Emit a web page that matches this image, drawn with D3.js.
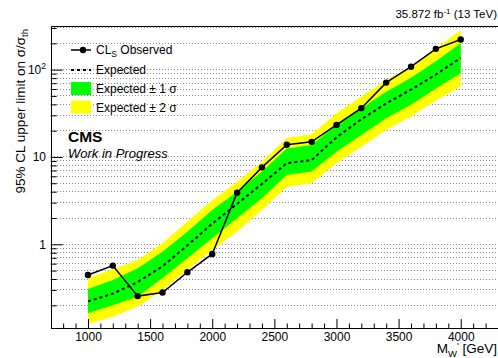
<!DOCTYPE html>
<html>
<head>
<meta charset="utf-8">
<script src="https://cdn.jsdelivr.net/npm/d3@7"></script>
<style>
  html, body { margin: 0; padding: 0; background: #fff; overflow: hidden; }
  svg { display: block; font-family: "Liberation Sans", Arial, Helvetica, sans-serif; }
</style>
</head>
<body>
<svg id="chart" width="498" height="358"></svg>
<script>
// W' mass points (GeV)
const masses = [1000, 1200, 1400, 1600, 1800, 2000, 2200, 2400, 2600, 2800, 3000, 3200, 3400, 3600, 3800, 4000];
// 95% CL upper limits on sigma/sigma_th
const observed = [0.445, 0.57, 0.255, 0.28, 0.478, 0.775, 3.9, 7.6, 13.8, 14.9, 23.3, 36.2, 71, 108, 173, 221];
const expected = [0.222, 0.272, 0.37, 0.56, 0.97, 1.72, 2.9, 4.9, 8.5, 9.2, 16.8, 27, 41, 59, 88, 136];
const plus1Sigma = [0.308, 0.39, 0.53, 0.82, 1.39, 2.47, 4.0, 6.8, 12.5, 13.7, 23.3, 36, 56, 81, 125, 200];
const minus1Sigma = [0.162, 0.2, 0.25, 0.41, 0.69, 1.17, 1.99, 3.36, 6.2, 6.8, 11.5, 17.9, 27.7, 39.5, 61, 91];
const plus2Sigma = [0.41, 0.517, 0.66, 1.03, 1.82, 3.2, 5.2, 8.8, 16.5, 18.2, 31.7, 49, 76, 108, 175, 285];
const minus2Sigma = [0.122, 0.148, 0.193, 0.3, 0.51, 0.86, 1.39, 2.47, 4.57, 5.0, 8.5, 13.1, 20.4, 29, 44, 64];

// axis ticks
const xMajorTicks = [1000, 1500, 2000, 2500, 3000, 3500, 4000];
const yMajorTicks = [1, 10, 100];
const yTickLabels = ["1", "10", "10^2"];

const svg = d3.select("#chart");
const plotLeft = 50.7, plotRight = 498, plotTop = 26, plotBottom = 328;

const x = d3.scaleLinear().domain([700, 4300]).range([plotLeft, plotRight]);
const y = d3.scaleLog().domain([0.11, 316]).range([plotBottom, plotTop]);

// minor decade values used for the horizontal grid and minor ticks
const yMinor = [];
[0.1, 1, 10, 100].forEach(d => { for (let k = 1; k <= 9; k++) { const v = +(d * k).toPrecision(3); if (v >= 0.11 && v <= 316) yMinor.push(v); } });

// horizontal grid
svg.append("g").selectAll("line").data(yMinor).join("line")
  .attr("x1", plotLeft).attr("x2", plotRight)
  .attr("y1", d => y(d)).attr("y2", d => y(d))
  .attr("stroke", "#8a8a8a").attr("stroke-width", 1)
  .attr("stroke-dasharray", "1.5,1.5")
  .attr("shape-rendering", "crispEdges");

const idx = d3.range(masses.length);

// +-2 sigma and +-1 sigma bands
const band = (lo, hi) => d3.area()
  .x(i => x(masses[i])).y0(i => y(lo[i])).y1(i => y(hi[i]));
svg.append("path").datum(idx).attr("d", band(minus2Sigma, plus2Sigma)).attr("fill", "#ffff00");
svg.append("path").datum(idx).attr("d", band(minus1Sigma, plus1Sigma)).attr("fill", "#00ff00");

// expected limit
svg.append("path").datum(idx)
  .attr("d", d3.line().x(i => x(masses[i])).y(i => y(expected[i])))
  .attr("fill", "none").attr("stroke", "#000").attr("stroke-width", 2)
  .attr("stroke-dasharray", "3,3");

// observed limit
svg.append("path").datum(idx)
  .attr("d", d3.line().x(i => x(masses[i])).y(i => y(observed[i])))
  .attr("fill", "none").attr("stroke", "#000").attr("stroke-width", 1.5);
svg.append("g").selectAll("circle").data(idx).join("circle")
  .attr("cx", i => x(masses[i])).attr("cy", i => y(observed[i]))
  .attr("r", 3.2).attr("fill", "#000");

// frame
svg.append("line").attr("x1", plotLeft).attr("x2", plotRight).attr("y1", plotTop).attr("y2", plotTop)
  .attr("stroke", "#000").attr("stroke-width", 1).attr("shape-rendering", "crispEdges");

// x axis with ticks pointing into the plot
const xAxis = d3.axisBottom(x).tickValues(d3.range(800, 4301, 100)).tickSize(0).tickFormat("");
const gx = svg.append("g").attr("transform", `translate(0,${plotBottom})`).call(xAxis);
gx.select(".domain").attr("stroke", "#000").attr("stroke-width", 1).attr("shape-rendering", "crispEdges");
gx.selectAll(".tick line").attr("y2", d => xMajorTicks.includes(d) ? -9 : -4.5).attr("stroke", "#000");
gx.selectAll(".tick").filter(d => xMajorTicks.includes(d)).append("text")
  .attr("y", 13).attr("text-anchor", "middle").attr("fill", "#000")
  .attr("font-size", 12).text(d => d);

// y axis with ticks pointing into the plot
const yAxis = d3.axisLeft(y).tickValues(yMinor).tickSize(0).tickFormat("");
const gy = svg.append("g").attr("transform", `translate(${plotLeft},0)`).call(yAxis);
gy.select(".domain").attr("stroke", "#000").attr("stroke-width", 1).attr("shape-rendering", "crispEdges");
gy.selectAll(".tick line").attr("x2", d => yMajorTicks.includes(d) ? 12 : 6).attr("stroke", "#000");
yMajorTicks.forEach((v, i) => {
  const t = svg.append("text").attr("x", 46).attr("y", y(v) + 4.5)
    .attr("text-anchor", "end").attr("font-size", 12).attr("fill", "#000");
  const parts = yTickLabels[i].split("^");
  t.append("tspan").text(parts[0]);
  if (parts[1]) t.append("tspan").attr("dy", -5).attr("font-size", 8.5).text(parts[1]);
});

// axis titles
const xt = svg.append("text").attr("x", 497).attr("y", 353).attr("text-anchor", "end")
  .attr("font-size", 13.5).attr("fill", "#000");
xt.append("tspan").text("M");
xt.append("tspan").attr("dy", 4).attr("font-size", 9.5).text("W");
xt.append("tspan").attr("dy", -8).attr("font-size", 9.5).text("'");
xt.append("tspan").attr("dy", 4).text(" [GeV]");

const yt = svg.append("text").attr("transform", "translate(24.5,29) rotate(-90)")
  .attr("text-anchor", "end").attr("font-size", 13.5).attr("fill", "#000");
yt.append("tspan").text("95% CL upper limit on σ/σ");
yt.append("tspan").attr("dy", 3.5).attr("font-size", 9.5).text("th");

// luminosity label
const lumi = svg.append("text").attr("x", 497).attr("y", 17.5).attr("text-anchor", "end")
  .attr("font-size", 11.5).attr("fill", "#000");
lumi.append("tspan").text("35.872 fb");
lumi.append("tspan").attr("dy", -4).attr("font-size", 8).text("-1");
lumi.append("tspan").attr("dy", 4).text(" (13 TeV)");

// CMS label
svg.append("text").attr("x", 68).attr("y", 142).attr("font-size", 15.5).attr("font-weight", "bold")
  .attr("fill", "#000").text("CMS");
svg.append("text").attr("x", 68).attr("y", 158).attr("font-size", 13).attr("font-style", "italic")
  .attr("fill", "#000").text("Work in Progress");

// legend
const lg = svg.append("g");
const lx0 = 71, lx1 = 91, tx = 96;
lg.append("line").attr("x1", lx0).attr("x2", lx1).attr("y1", 50).attr("y2", 50)
  .attr("stroke", "#000").attr("stroke-width", 1.5);
lg.append("circle").attr("cx", 83).attr("cy", 50).attr("r", 3.2).attr("fill", "#000");
const l1 = lg.append("text").attr("x", tx).attr("y", 54).attr("font-size", 12).attr("fill", "#000");
l1.append("tspan").text("CL");
l1.append("tspan").attr("dy", 3).attr("font-size", 8.5).text("S");
l1.append("tspan").attr("dy", -3).text(" Observed");

lg.append("line").attr("x1", lx0).attr("x2", lx1).attr("y1", 70).attr("y2", 70)
  .attr("stroke", "#000").attr("stroke-width", 2).attr("stroke-dasharray", "3,3");
lg.append("text").attr("x", tx).attr("y", 74).attr("font-size", 12).attr("fill", "#000").text("Expected");

lg.append("rect").attr("x", lx0).attr("y", 82).attr("width", lx1 - lx0).attr("height", 13).attr("fill", "#00ff00");
lg.append("text").attr("x", tx).attr("y", 92.5).attr("font-size", 12).attr("fill", "#000").text("Expected ± 1 σ");

lg.append("rect").attr("x", lx0).attr("y", 100.5).attr("width", lx1 - lx0).attr("height", 13).attr("fill", "#ffff00");
lg.append("text").attr("x", tx).attr("y", 111.5).attr("font-size", 12).attr("fill", "#000").text("Expected ± 2 σ");
</script>
</body>
</html>
